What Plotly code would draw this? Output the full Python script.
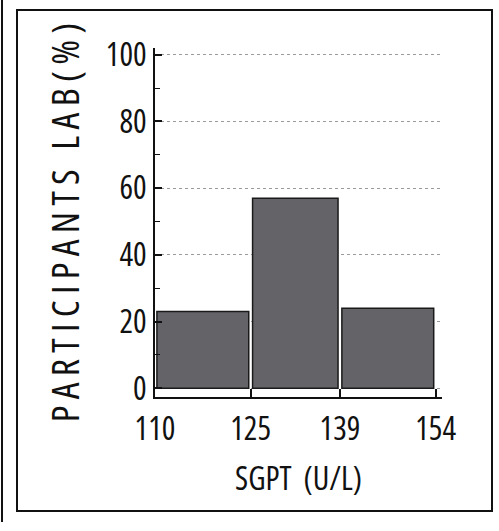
import plotly.graph_objects as go

# Data
bin_edges = [110, 125, 139, 154]
tick_labels = ["110", "125", "139", "154"]
participants_pct = [23, 57, 24]

x_title = "SGPT  (U/L)"
y_title = "\u2009".join(list("PARTICIPANTS")) + "\u2009\u2009 " + "\u2009".join(list("LAB(%)"))

centers = [(bin_edges[i] + bin_edges[i + 1]) / 2 for i in range(len(participants_pct))]
widths = [(bin_edges[i + 1] - bin_edges[i]) - 0.6 for i in range(len(participants_pct))]

FONT = "Open Sans, Liberation Sans, sans-serif"

W, H = 499, 531
ML, MR, MT, MB = 155, 57, 48, 134
PW, PH = W - ML - MR, H - MT - MB

def px_to_paper_x(px):
    return (px - ML) / PW

def px_to_paper_y(py):
    return (H - MB - py) / PH

fig = go.Figure()
fig.add_trace(go.Bar(
    x=centers,
    y=participants_pct,
    width=widths,
    marker=dict(color="#646468", line=dict(color="#1a1a1a", width=1.5)),
    hoverinfo="y",
))

fig.update_layout(
    width=W, height=H,
    margin=dict(l=ML, r=MR, t=MT, b=MB),
    paper_bgcolor="white",
    plot_bgcolor="white",
    showlegend=False,
    font=dict(family=FONT, color="#111111"),
    xaxis=dict(
        range=[110, 155],
        tickvals=bin_edges,
        ticktext=tick_labels,
        ticks="inside",
        ticklen=8,
        tickwidth=1.5,
        tickcolor="#111",
        showline=True,
        linecolor="#111",
        linewidth=2,
        showgrid=False,
        zeroline=False,
        automargin=False,
        tickfont=dict(size=32, family=FONT, color="#111"),
        ticklabelstandoff=3,
        title=dict(text=x_title, font=dict(size=32, family=FONT, color="#111"), standoff=19),
    ),
    yaxis=dict(
        range=[-2.6, 102],
        tickvals=[0, 20, 40, 60, 80, 100],
        ticks="inside",
        ticklen=7,
        tickwidth=1.5,
        tickcolor="#111",
        minor=dict(ticks="inside", dtick=10, ticklen=5, tickwidth=1.2, tickcolor="#111", showgrid=False),
        showline=True,
        linecolor="#111",
        linewidth=2,
        showgrid=True,
        gridcolor="#9a9a9a",
        griddash="dot",
        gridwidth=1,
        zeroline=False,
        automargin=False,
        tickfont=dict(size=32, family=FONT, color="#111"),
        ticklabelstandoff=0,
        title=dict(text=y_title, font=dict(size=38, family=FONT, color="#111"), standoff=0),
    ),
)

# Outer frame around the figure panel
fig.add_shape(
    type="rect", xref="paper", yref="paper",
    x0=px_to_paper_x(17), x1=px_to_paper_x(492),
    y0=px_to_paper_y(511), y1=px_to_paper_y(10),
    line=dict(color="#111", width=2), fillcolor="rgba(0,0,0,0)", layer="below",
)
# Edge of neighbouring panel at far left
fig.add_shape(
    type="line", xref="paper", yref="paper",
    x0=px_to_paper_x(2), x1=px_to_paper_x(2),
    y0=px_to_paper_y(522), y1=px_to_paper_y(0),
    line=dict(color="#111", width=2),
)

# Remove page margin and use condensed lettering like the original (Open Sans width axis)
post = """
document.body.style.margin = '0';
var s = document.createElement('style');
s.textContent = 'body { margin: 0 !important; } .main-svg text { font-stretch: 75% !important; }';
document.head.appendChild(s);
"""
fig.write_html("out.html", post_script=post, config={"displayModeBar": False})
